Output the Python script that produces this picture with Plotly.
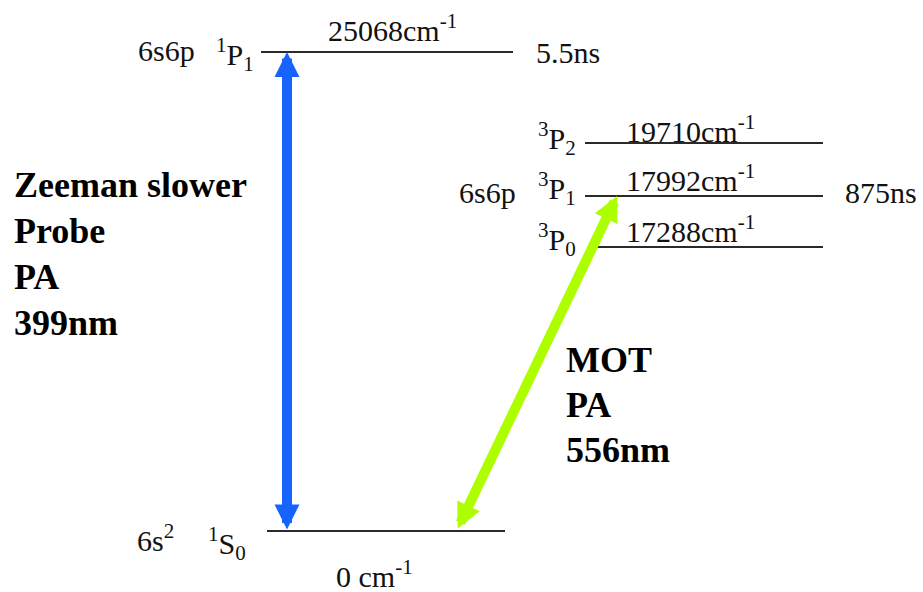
import plotly.graph_objects as go

# ---------------- data ----------------
level_terms = ["1P1", "3P2", "3P1", "3P0", "1S0"]
term_labels = ["<sup>1</sup>P<sub>1</sub>", "<sup>3</sup>P<sub>2</sub>",
               "<sup>3</sup>P<sub>1</sub>", "<sup>3</sup>P<sub>0</sub>",
               "<sup>1</sup>S<sub>0</sub>"]
configurations = ["6s6p", "", "6s6p", "", "6s<sup>2</sup>"]
energies_cm = [25068, 19710, 17992, 17288, 0]
lifetimes = ["5.5ns", "", "875ns", "", ""]
transitions = [("1S0", "1P1"), ("1S0", "3P1")]
transition_labels = [["Zeeman slower", "Probe", "PA", "399nm"],
                     ["MOT", "PA", "556nm"]]

# ---------------- schematic layout (canvas units) ----------------
W, H = 923, 592
level_y = {"1P1": 52, "3P2": 143, "3P1": 196, "3P0": 247, "1S0": 531}
level_x = {"1P1": (261, 513), "3P2": (585, 823), "3P1": (585, 823),
           "3P0": (590, 823), "1S0": (267, 505)}
energy_label_pos = {"1P1": (392, 28), "3P2": (690, 129), "3P1": (690, 178),
                    "3P0": (690, 229), "1S0": (374, 574)}
term_label_pos = {"1P1": (256, 54), "3P2": (578, 138), "3P1": (578, 188),
                  "3P0": (578, 239), "1S0": (248, 543)}
config_label_pos = {"1P1": (197, 50), "3P1": (518, 192), "1S0": (176, 538)}
lifetime_pos = {"1P1": (534, 52), "3P1": (843, 192)}
arrow_ends = [((287, 531), (287, 52)), ((457, 530), (617, 196))]
arrow_colors = ["#1663fd", "#adff00"]
block_pos = [(12, 185, 46), (564, 360, 45)]

FONT = "Liberation Serif"
FS = 30
FSB = 36
TXT = "#111111"


def txt(x, y, text, xanchor, size=FS, color=TXT):
    return dict(x=x, y=y, xref="x", yref="y", text=text, showarrow=False,
                xanchor=xanchor, yanchor="middle",
                font=dict(family=FONT, size=size, color=color))


fig = go.Figure()
ann = []

for i, t in enumerate(level_terms):
    x0, x1 = level_x[t]
    y = level_y[t]
    fig.add_trace(go.Scatter(x=[x0, x1], y=[y, y], mode="lines",
                             line=dict(color="#2a2a2a", width=2),
                             hoverinfo="skip", showlegend=False))
    ex, ey = energy_label_pos[t]
    e = energies_cm[i]
    etxt = "0 cm<sup>-1</sup>" if e == 0 else f"{e}cm<sup>-1</sup>"
    ann.append(txt(ex, ey, etxt, "center"))
    tx, ty = term_label_pos[t]
    ann.append(txt(tx, ty, term_labels[i], "right"))
    if configurations[i]:
        cx, cy = config_label_pos[t]
        ann.append(txt(cx, cy, configurations[i], "right"))
    if lifetimes[i]:
        lx, ly = lifetime_pos[t]
        ann.append(txt(lx, ly, lifetimes[i], "left"))

for k, (lo, hi) in enumerate(transitions):
    (xa, ya), (xb, yb) = arrow_ends[k]
    ann.append(dict(x=xb, y=yb, ax=xa, ay=ya, xref="x", yref="y",
                    axref="x", ayref="y", text="",
                    showarrow=True, arrowhead=2, startarrowhead=2,
                    arrowside="end+start", arrowsize=0.5, startarrowsize=0.5,
                    arrowwidth=10, arrowcolor=arrow_colors[k],
                    standoff=0, startstandoff=0))
    bx, by, dy = block_pos[k]
    for j, line in enumerate(transition_labels[k]):
        ann.append(txt(bx, by + j * dy, f"<b>{line}</b>", "left", size=FSB, color="#000"))

fig.update_layout(
    width=W, height=H, margin=dict(l=0, r=0, t=0, b=0),
    paper_bgcolor="white", plot_bgcolor="white",
    xaxis=dict(range=[0, W], visible=False),
    yaxis=dict(range=[H, 0], visible=False),
    annotations=ann, showlegend=False,
)

fig.write_html("out.html")
